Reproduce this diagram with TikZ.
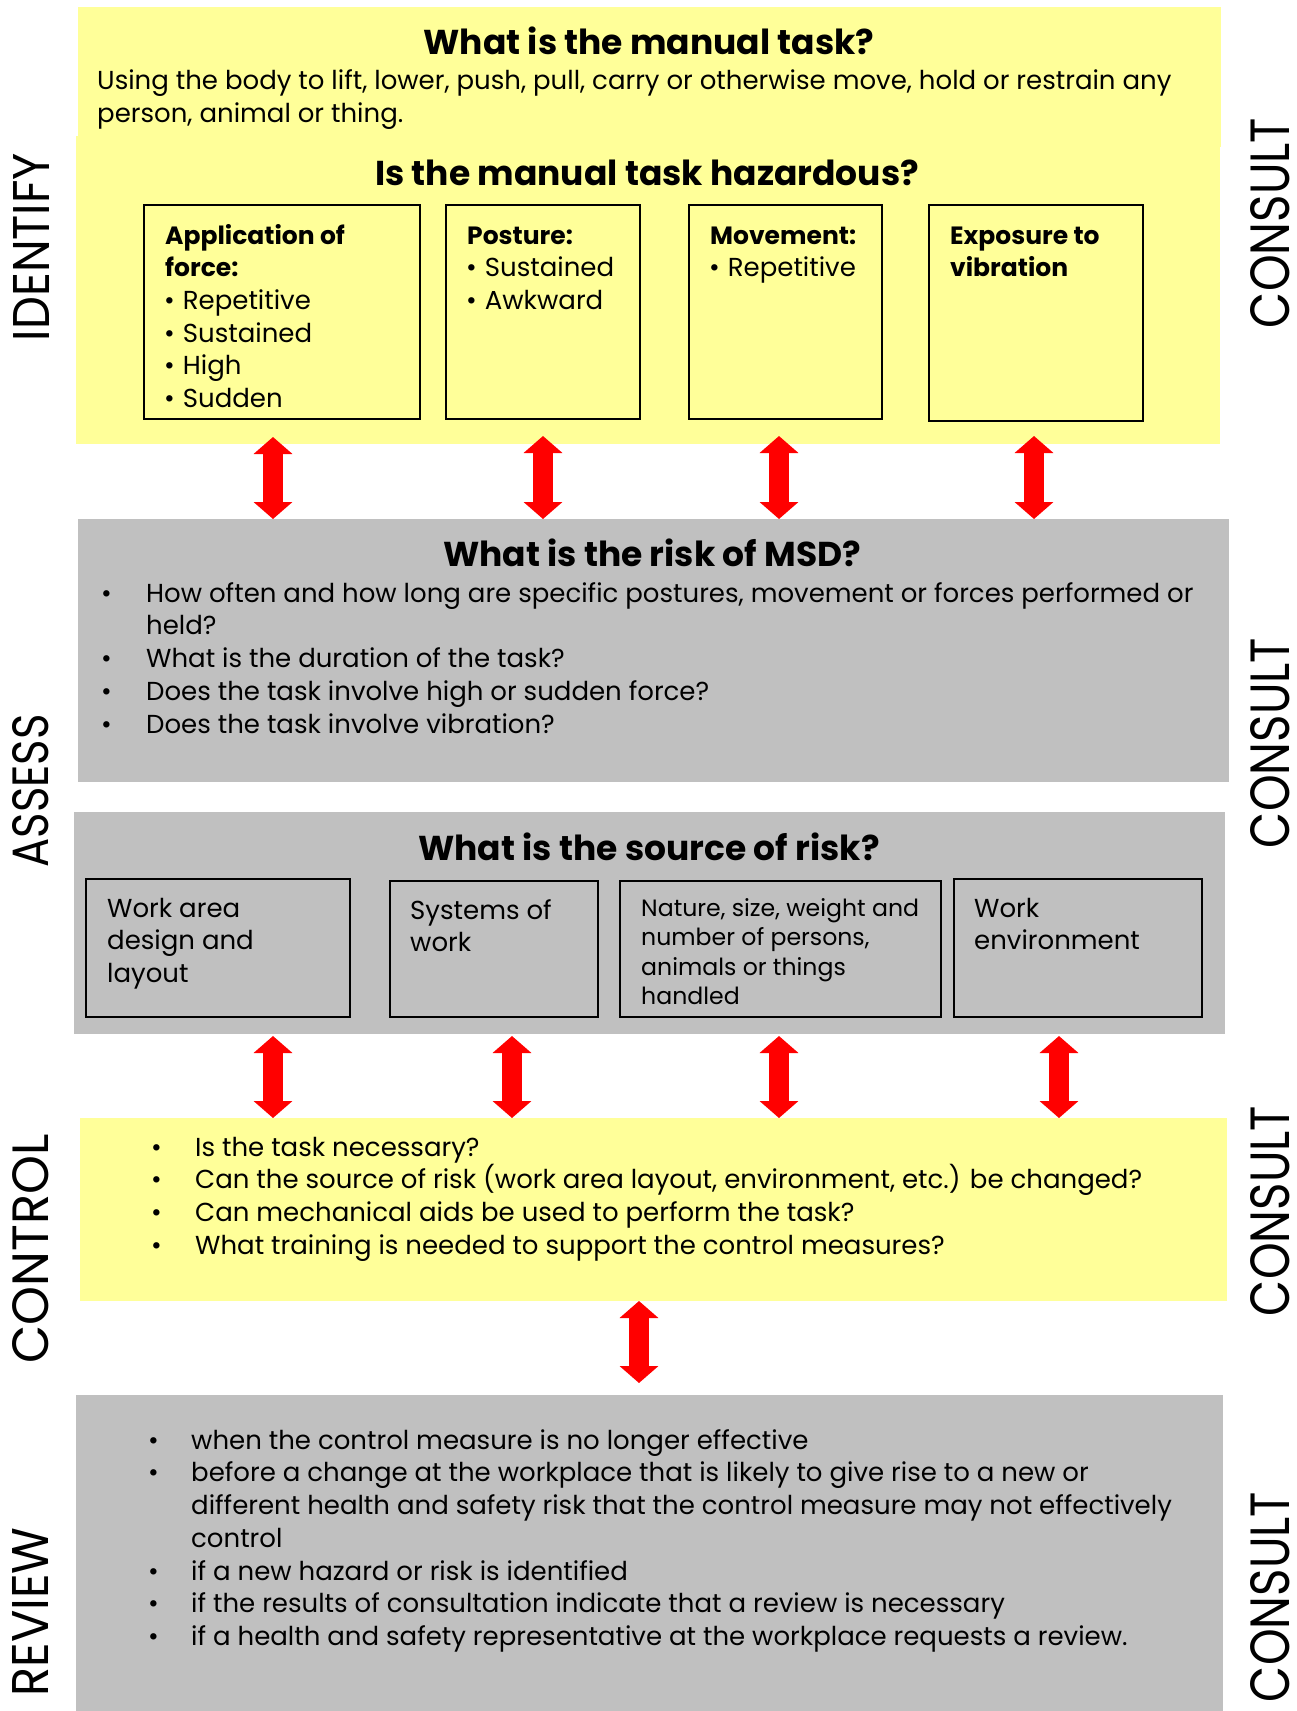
\documentclass[tikz,border=0pt]{standalone}
\usepackage{fontspec}
\usepackage{graphicx}
\setmainfont{Poppins}
\usetikzlibrary{arrows.meta}
\definecolor{yel}{HTML}{FFFF99}
\definecolor{gry}{HTML}{C0C0C0}
\definecolor{arrred}{HTML}{FF0000}
\tikzset{
  panel/.style={draw=none, inner sep=0pt, outer sep=0pt, anchor=north west},
  subbox/.style={draw=black, line width=2pt, inner sep=0pt, outer sep=0pt, anchor=north west},
  bodytxt/.style={anchor=base west, align=left, inner sep=0pt, font=\fontsize{26}{32.7}\selectfont},
  smalltxt/.style={anchor=base west, align=left, inner sep=0pt, font=\fontsize{23.6}{29.5}\selectfont},
  titletxt/.style={anchor=base, inner sep=0pt, font=\bfseries\fontsize{34.5}{40}\selectfont},
  sidelabel/.style={rotate=90, inner sep=0pt, anchor=center},
  dblarrow/.style={draw=arrred, line width=20pt,
    {Triangle[width=38pt,length=17pt]}-{Triangle[width=38pt,length=17pt]}},
}
\newcommand{\bul}{\hspace{-1pt}•\hspace{8pt}}
\newcommand{\hb}[1]{{\fontsize{25}{32.7}\selectfont\bfseries #1}}
\begin{document}
\begin{tikzpicture}[x=1pt,y=-1pt]
\useasboundingbox[fill=white] (0,0) rectangle (1297,1711);

% panels
\node[panel,fill=yel,minimum width=1143pt,minimum height=140pt] (pTask) at (78,7) {};
\node[panel,fill=yel,minimum width=1144pt,minimum height=308pt] (pHaz) at (76,136) {};
\node[panel,fill=gry,minimum width=1151pt,minimum height=263pt] (pRisk) at (78,519) {};
\node[panel,fill=gry,minimum width=1151pt,minimum height=222pt] (pSrc) at (74,812) {};
\node[panel,fill=yel,minimum width=1147pt,minimum height=183pt] (pCtl) at (80,1118) {};
\node[panel,fill=gry,minimum width=1147pt,minimum height=316pt] (pRev) at (76,1395) {};

% titles (anchor = baseline of last line)
\node[titletxt] (tTask) at (649,54) {What is the manual task?};
\node[bodytxt] (tTaskBody) at (97,122.2) {Using the body to lift, lower, push, pull, carry or otherwise move, hold or restrain any\\person, animal or thing.};
\node[titletxt] (tHaz) at (647,185) {Is the manual task hazardous?};

% hazard boxes
\node[subbox,fill=yel,minimum width=276pt,minimum height=214pt] (bForce) at (144,205) {};
\node[subbox,fill=yel,minimum width=194pt,minimum height=214pt] (bPost) at (446,205) {};
\node[subbox,fill=yel,minimum width=193pt,minimum height=214pt] (bMove) at (689,205) {};
\node[subbox,fill=yel,minimum width=214pt,minimum height=216pt] (bVib) at (929,205) {};

\node[bodytxt] (xForce) at (165,407.5) {\hb{Application of}\\\hb{force:}\\\bul Repetitive\\\bul Sustained\\\bul High\\\bul Sudden};
\node[bodytxt] (xPost) at (467,309.4) {\hb{Posture:}\\\bul Sustained\\\bul Awkward};
\node[bodytxt] (xMove) at (710,276.7) {\hb{Movement:}\\\bul Repetitive};
\node[bodytxt] (xVib) at (950,276.7) {\hb{Exposure to}\\\hb{vibration}};

% arrows hazard -> risk
\coordinate (h1a) at (273,437); \coordinate (h1b) at (273,519);
\coordinate (h2a) at (543,436); \coordinate (h2b) at (543,519);
\coordinate (h3a) at (779,436); \coordinate (h3b) at (779,519);
\coordinate (h4a) at (1034,436); \coordinate (h4b) at (1034,519);
\draw[dblarrow] (h1a) -- (h1b);
\draw[dblarrow] (h2a) -- (h2b);
\draw[dblarrow] (h3a) -- (h3b);
\draw[dblarrow] (h4a) -- (h4b);

% risk panel
\node[titletxt] (tRisk) at (652,566) {What is the risk of MSD?};
\node[bodytxt] (kRisk) at (101,733) {•\\\mbox{}\\•\\•\\•};
\node[bodytxt] (xRisk) at (146,733) {How often and how long are specific postures, movement or forces performed or\\held?\\What is the duration of the task?\\Does the task involve high or sudden force?\\Does the task involve vibration?};

% source panel
\node[titletxt] (tSrc) at (649,860) {What is the source of risk?};
\node[subbox,fill=gry,minimum width=264pt,minimum height=138pt] (bArea) at (86,879) {};
\node[subbox,fill=gry,minimum width=208pt,minimum height=136pt] (bSys) at (390,881) {};
\node[subbox,fill=gry,minimum width=321pt,minimum height=136pt] (bNat) at (620,881) {};
\node[subbox,fill=gry,minimum width=248pt,minimum height=138pt] (bEnv) at (954,879) {};
\node[bodytxt] (xArea) at (107,982.6) {Work area\\design and\\layout};
\node[bodytxt] (xSys) at (410,951.9) {Systems of\\work};
\node[smalltxt] (xNat) at (641,1004.7) {Nature, size, weight and\\number of persons,\\animals or things\\handled};
\node[bodytxt] (xEnv) at (974,949.9) {Work\\environment};

% arrows source -> control
\coordinate (s1a) at (273,1036); \coordinate (s1b) at (273,1118);
\coordinate (s2a) at (512,1036); \coordinate (s2b) at (512,1118);
\coordinate (s3a) at (779,1036); \coordinate (s3b) at (779,1118);
\coordinate (s4a) at (1059,1036); \coordinate (s4b) at (1059,1118);
\draw[dblarrow] (s1a) -- (s1b);
\draw[dblarrow] (s2a) -- (s2b);
\draw[dblarrow] (s3a) -- (s3b);
\draw[dblarrow] (s4a) -- (s4b);

% control panel
\node[bodytxt] (kCtl) at (151,1254.3) {•\\•\\•\\•};
\node[bodytxt] (xCtl) at (195,1254.3) {Is the task necessary?\\Can the source of risk (work area layout, environment, etc.) be changed?\\Can mechanical aids be used to perform the task?\\What training is needed to support the control measures?};

% arrow control -> review
\coordinate (c1a) at (639,1301); \coordinate (c1b) at (639,1383);
\draw[dblarrow] (c1a) -- (c1b);

% review panel
\node[bodytxt] (kRev) at (148,1645.4) {•\\•\\\mbox{}\\\mbox{}\\•\\•\\•};
\node[bodytxt] (xRev) at (191,1645.4) {when the control measure is no longer effective\\before a change at the workplace that is likely to give rise to a new or\\different health and safety risk that the control measure may not effectively\\control\\if a new hazard or risk is identified\\if the results of consultation indicate that a review is necessary\\if a health and safety representative at the workplace requests a review.};

% side labels
\node[sidelabel] (lId) at (31,247) {\resizebox{188pt}{36pt}{IDENTIFY}};
\node[sidelabel] (lAs) at (31,791) {\resizebox{153pt}{36pt}{ASSESS}};
\node[sidelabel] (lCo) at (31,1249) {\resizebox{229pt}{36pt}{CONTROL}};
\node[sidelabel] (lRe) at (31,1612) {\resizebox{169pt}{36pt}{REVIEW}};
\node[sidelabel] (lC1) at (1270,223) {\resizebox{210pt}{39pt}{CONSULT}};
\node[sidelabel] (lC2) at (1270,743) {\resizebox{210pt}{39pt}{CONSULT}};
\node[sidelabel] (lC3) at (1270,1211) {\resizebox{210pt}{39pt}{CONSULT}};
\node[sidelabel] (lC4) at (1270,1597) {\resizebox{210pt}{39pt}{CONSULT}};
\end{tikzpicture}
\end{document}
